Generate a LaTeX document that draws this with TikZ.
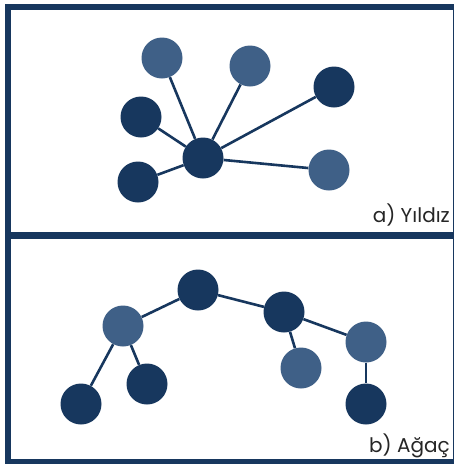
\documentclass[tikz,border=0pt]{standalone}
\usepackage{fontspec}
\setmainfont{Poppins}
\definecolor{navy}{HTML}{17375E}
\definecolor{steel}{HTML}{3F6087}

\begin{document}
\begin{tikzpicture}[x=1pt, y=-1pt, main/.style = {circle, minimum size=41pt, inner sep=0pt}, dark/.style = {main, fill=navy}, light/.style = {main, fill=steel}, edge/.style = {draw=navy, line width=2.6pt}, frame/.style = {draw=navy, line width=6.5pt}, lbl/.style = {anchor=base east, inner sep=0pt, font=\fontsize{20}{24}\selectfont, text=black!85}]

    \useasboundingbox (0,0) rectangle (454,464);
    \fill[white] (0,0) rectangle (454,464);
    \draw[frame] (8,7) rectangle (456.5,235.5);
    \draw[frame] (8,235.5) rectangle (456.5,462);

    % a) star
    \node [dark] (c) at (203, 158) {};
    \node [light] (s1) at (162, 58) {};
    \node [light] (s2) at (250, 66) {};
    \node [dark] (s3) at (334, 87) {};
    \node [dark] (s4) at (141, 117) {};
    \node [dark] (s5) at (138, 182) {};
    \node [light] (s6) at (329, 170) {};

    \draw[edge] (c) to (s1);
    \draw[edge] (c) to (s2);
    \draw[edge] (c) to (s3);
    \draw[edge] (c) to (s4);
    \draw[edge] (c) to (s5);
    \draw[edge] (c) to (s6);

    \node [lbl] (la) at (450, 222) {a) Yıldız};

    % b) tree
    \node [dark] (r) at (198, 290) {};
    \node [light] (l) at (123, 326) {};
    \node [dark] (ll) at (81, 404) {};
    \node [dark] (lr) at (147, 384) {};
    \node [dark] (rt) at (284, 312) {};
    \node [light] (rl) at (301, 368) {};
    \node [light] (rr) at (366, 342) {};
    \node [dark] (rrc) at (366, 404) {};

    \draw[edge] (r) to (l);
    \draw[edge] (r) to (rt);
    \draw[edge] (l) to (ll);
    \draw[edge] (l) to (lr);
    \draw[edge] (rt) to (rl);
    \draw[edge] (rt) to (rr);
    \draw[edge] (rr) to (rrc);

    \node [lbl] (lb) at (450, 452) {b) Ağaç};

\end{tikzpicture}
\end{document}
